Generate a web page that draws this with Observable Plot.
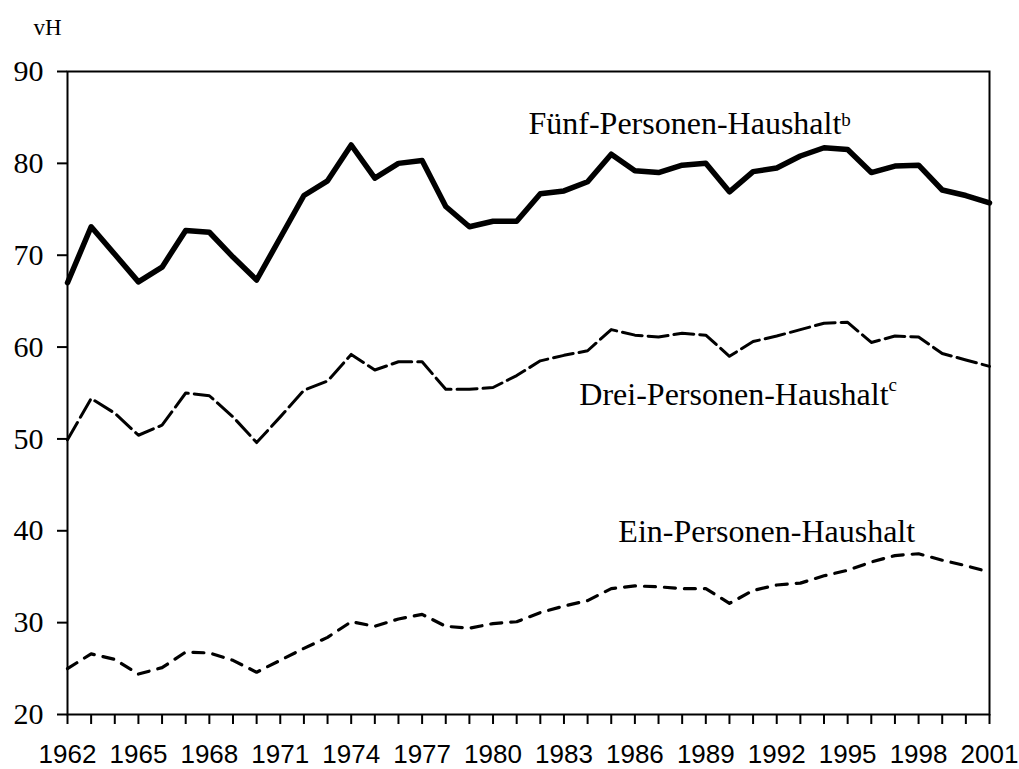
<!DOCTYPE html>
<html>
<head>
<meta charset="utf-8">
<script src="https://cdn.jsdelivr.net/npm/d3@7"></script>
<script src="https://cdn.jsdelivr.net/npm/@observablehq/plot@0.6"></script>
<style>
  html, body { margin: 0; padding: 0; background: #fff; }
  #chart { width: 1019px; height: 769px; }
</style>
</head>
<body>
<div id="chart"></div>
<script>
const years = [1962,1963,1964,1965,1966,1967,1968,1969,1970,1971,1972,1973,1974,1975,1976,1977,1978,1979,1980,1981,
               1982,1983,1984,1985,1986,1987,1988,1989,1990,1991,1992,1993,1994,1995,1996,1997,1998,1999,2000,2001];
const fuenf = [67.0,73.1,70.1,67.1,68.7,72.7,72.5,69.8,67.3,71.9,76.5,78.1,82.0,78.4,80.0,80.3,75.3,73.1,73.7,73.7,
               76.7,77.0,78.0,81.0,79.2,79.0,79.8,80.0,76.9,79.1,79.5,80.8,81.7,81.5,79.0,79.7,79.8,77.1,76.5,75.7];
const drei  = [49.9,54.4,52.8,50.4,51.5,55.0,54.7,52.4,49.6,52.4,55.3,56.3,59.2,57.5,58.4,58.4,55.4,55.4,55.6,56.9,
               58.5,59.1,59.6,61.9,61.3,61.1,61.5,61.3,59.0,60.6,61.2,61.9,62.6,62.7,60.5,61.2,61.1,59.3,58.6,57.9];
const ein   = [25.0,26.6,26.0,24.4,25.1,26.8,26.7,25.9,24.6,25.9,27.2,28.4,30.1,29.6,30.4,30.9,29.6,29.4,29.9,30.1,
               31.1,31.8,32.4,33.7,34.0,33.9,33.7,33.7,32.1,33.5,34.1,34.3,35.1,35.7,36.6,37.3,37.5,36.8,36.2,35.5];
const yTicks = [20,30,40,50,60,70,80,90];
const xLabelYears = [1962,1965,1968,1971,1974,1977,1980,1983,1986,1989,1992,1995,1998,2001];

// series labels: name, superscript, anchor year, anchor value
const labelNames = ["Fünf-Personen-Haushalt","Drei-Personen-Haushalt","Ein-Personen-Haushalt"];
const labelSups  = ["b","c",""];
const labelYears = [1981.5,1983.65,1985.3];
const labelVals  = [83.2,53.7,38.75];

const rows = (vals) => years.map((y,i) => ({year: y, value: vals[i]}));
const labels = labelNames.map((n,i) => ({name: n, year: labelYears[i], value: labelVals[i]}));

const serif = "Liberation Serif, Times New Roman, serif";
const sans = "Liberation Sans, Arial, sans-serif";

const chart = Plot.plot({
  width: 1019,
  height: 769,
  marginLeft: 67,
  marginRight: 30,
  marginTop: 71,
  marginBottom: 55,
  style: {fontFamily: serif, background: "#fff", color: "#000"},
  x: {domain: [1962, 2001]},
  y: {domain: [20, 90]},
  marks: [
    Plot.axisY({ticks: yTicks, tickSize: 10, tickPadding: 14, fontSize: 30, fontFamily: serif, strokeWidth: 2, label: null}),
    Plot.axisX({ticks: years, tickSize: 10, tickPadding: 20, fontSize: 26, fontFamily: sans, strokeWidth: 2, label: null,
                tickFormat: d => xLabelYears.includes(d) ? String(d) : ""}),
    Plot.frame({stroke: "#000", strokeWidth: 2}),
    Plot.line(rows(ein), {x: "year", y: "value", stroke: "#000", strokeWidth: 3.2, strokeDasharray: "11,9", strokeLinejoin: "round"}),
    Plot.line(rows(drei), {x: "year", y: "value", stroke: "#000", strokeWidth: 3, strokeDasharray: "20,6", strokeLinejoin: "round"}),
    Plot.line(rows(fuenf), {x: "year", y: "value", stroke: "#000", strokeWidth: 5.5, strokeLinejoin: "round"}),
    Plot.text(labels, {x: "year", y: "value", text: "name", textAnchor: "start", lineAnchor: "bottom", fontSize: 32, fontFamily: serif, fill: "#000"}),
    Plot.text(["vH"], {text: d => d, frameAnchor: "top-left", dx: -34, dy: -37, textAnchor: "start", lineAnchor: "bottom", fontSize: 23, fontFamily: serif, fill: "#000"})
  ]
});

// enforce fonts on axis labels
d3.select(chart).selectAll('g[aria-label="y-axis tick label"]').attr("font-family", serif).attr("font-size", 30);
d3.select(chart).selectAll('g[aria-label="x-axis tick label"]').attr("font-family", sans).attr("font-size", 26);

// superscripts
d3.select(chart).selectAll("text").each(function() {
  const t = this.textContent;
  const i = labelNames.indexOf(t);
  if (i >= 0 && labelSups[i]) {
    const ts = document.createElementNS("http://www.w3.org/2000/svg", "tspan");
    ts.setAttribute("font-size", "19");
    ts.setAttribute("dy", labelSups[i] === "b" ? "-8" : "-14");
    ts.textContent = labelSups[i];
    this.appendChild(ts);
  }
});

document.getElementById("chart").appendChild(chart);
</script>
</body>
</html>
